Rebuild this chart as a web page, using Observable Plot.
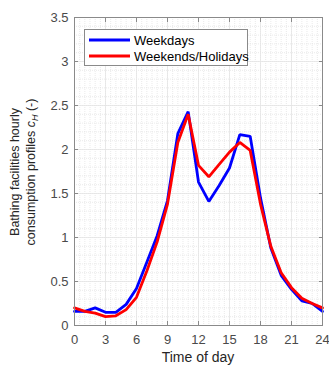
<!DOCTYPE html>
<html>
<head>
<meta charset="utf-8">
<script src="https://cdn.jsdelivr.net/npm/d3@7"></script>
<script src="https://cdn.jsdelivr.net/npm/@observablehq/plot@0.6"></script>
<style>
  html, body { margin: 0; padding: 0; background: #fff; }
  #chart svg { display: block; }
</style>
</head>
<body>
<div id="chart"></div>
<script>
const hours = d3.range(0, 25);
const weekdays = [0.16, 0.16, 0.20, 0.15, 0.15, 0.24, 0.42, 0.72, 1.02, 1.42, 2.18, 2.43, 1.63, 1.41, 1.59, 1.79, 2.17, 2.15, 1.45, 0.88, 0.57, 0.41, 0.28, 0.25, 0.16];
const weekends = [0.20, 0.16, 0.14, 0.10, 0.11, 0.18, 0.32, 0.62, 0.95, 1.38, 2.08, 2.40, 1.82, 1.69, 1.83, 1.97, 2.08, 1.99, 1.38, 0.90, 0.60, 0.43, 0.31, 0.25, 0.20];
const seriesNames = ["Weekdays", "Weekends/Holidays"];
const seriesColors = ["#0000ff", "#ff0000"];
const xTicks = [0, 3, 6, 9, 12, 15, 18, 21, 24];
const yTicks = [0, 0.5, 1, 1.5, 2, 2.5, 3, 3.5];
const xMinor = d3.range(0, 24.001, 0.5);
const yMinor = d3.range(0, 3.5001, 0.1);

const rows = [
  ...hours.map((h, i) => ({hour: h, value: weekdays[i], series: seriesNames[0]})),
  ...hours.map((h, i) => ({hour: h, value: weekends[i], series: seriesNames[1]}))
];

const W = 329, H = 365;
const plot = Plot.plot({
  width: W,
  height: H,
  marginLeft: 74,
  marginRight: 7,
  marginTop: 17,
  marginBottom: 40,
  style: {fontFamily: "'Liberation Sans', Arial, sans-serif", fontSize: "13px", color: "#4a4a4a", background: "#fff"},
  x: {domain: [0, 24], label: null},
  y: {domain: [0, 3.5], label: null},
  color: {domain: seriesNames, range: seriesColors},
  marks: [
    Plot.ruleX(xMinor, {stroke: "#dcdcdc", strokeWidth: 0.6, strokeDasharray: "1,1"}),
    Plot.ruleY(yMinor, {stroke: "#dcdcdc", strokeWidth: 0.6, strokeDasharray: "1,1"}),
    Plot.ruleX(xTicks, {stroke: "#e4e4e4", strokeWidth: 0.8}),
    Plot.ruleY(yTicks, {stroke: "#e4e4e4", strokeWidth: 0.8}),
    Plot.line(rows, {x: "hour", y: "value", stroke: "series", strokeWidth: 2.8, strokeLinejoin: "miter", z: "series"}),
    Plot.frame({stroke: "#8a8a8a", strokeWidth: 1}),
    Plot.axisX({anchor: "bottom", ticks: xTicks, tickSize: -4, tickPadding: 13, tickFormat: d => String(d), stroke: "#8a8a8a", fill: "#4a4a4a", fontSize: 13}),
    Plot.axisX({anchor: "top", ticks: xTicks, tickSize: -4, tickFormat: () => "", stroke: "#8a8a8a"}),
    Plot.axisY({anchor: "left", ticks: yTicks, tickSize: -4, tickPadding: 10, tickFormat: d => String(d), stroke: "#8a8a8a", fill: "#4a4a4a", fontSize: 13}),
    Plot.axisY({anchor: "right", ticks: yTicks, tickSize: -4, tickFormat: () => "", stroke: "#8a8a8a"})
  ]
});

document.getElementById("chart").appendChild(plot);

const svg = d3.select(plot);
const font = "'Liberation Sans', Arial, sans-serif";

// x label
svg.append("text")
  .attr("x", 198).attr("y", 362)
  .attr("text-anchor", "middle")
  .attr("font-family", font).attr("font-size", 14).attr("fill", "#262626")
  .text("Time of day");

// y label (two lines)
const yl = svg.append("g").attr("transform", "translate(0,172) rotate(-90)")
  .attr("font-family", font).attr("font-size", 12.5).attr("fill", "#262626")
  .attr("text-anchor", "middle");
yl.append("text").attr("x", 0).attr("y", 19).text("Bathing facilities hourly");
const t2 = yl.append("text").attr("x", 0).attr("y", 35);
t2.append("tspan").text("consumption profiles ");
t2.append("tspan").attr("font-style", "italic").text("c");
t2.append("tspan").attr("font-style", "italic").attr("font-size", 9).attr("dy", 3).text("H");
t2.append("tspan").attr("dy", -3).text(" (-)");

// legend
const lg = svg.append("g").attr("font-family", font).attr("font-size", 13).attr("fill", "#000")
  .attr("text-anchor", "start");
lg.append("rect").attr("x", 84.5).attr("y", 29.5).attr("width", 163).attr("height", 36)
  .attr("fill", "#fff").attr("stroke", "#8a8a8a").attr("stroke-width", 1);
seriesNames.forEach((name, i) => {
  const yy = 40 + i * 16;
  lg.append("line").attr("x1", 89).attr("x2", 130).attr("y1", yy).attr("y2", yy)
    .attr("stroke", seriesColors[i]).attr("stroke-width", 2.8);
  lg.append("text").attr("x", 134).attr("y", yy + 4.5).attr("text-anchor", "start").text(name);
});
</script>
</body>
</html>
